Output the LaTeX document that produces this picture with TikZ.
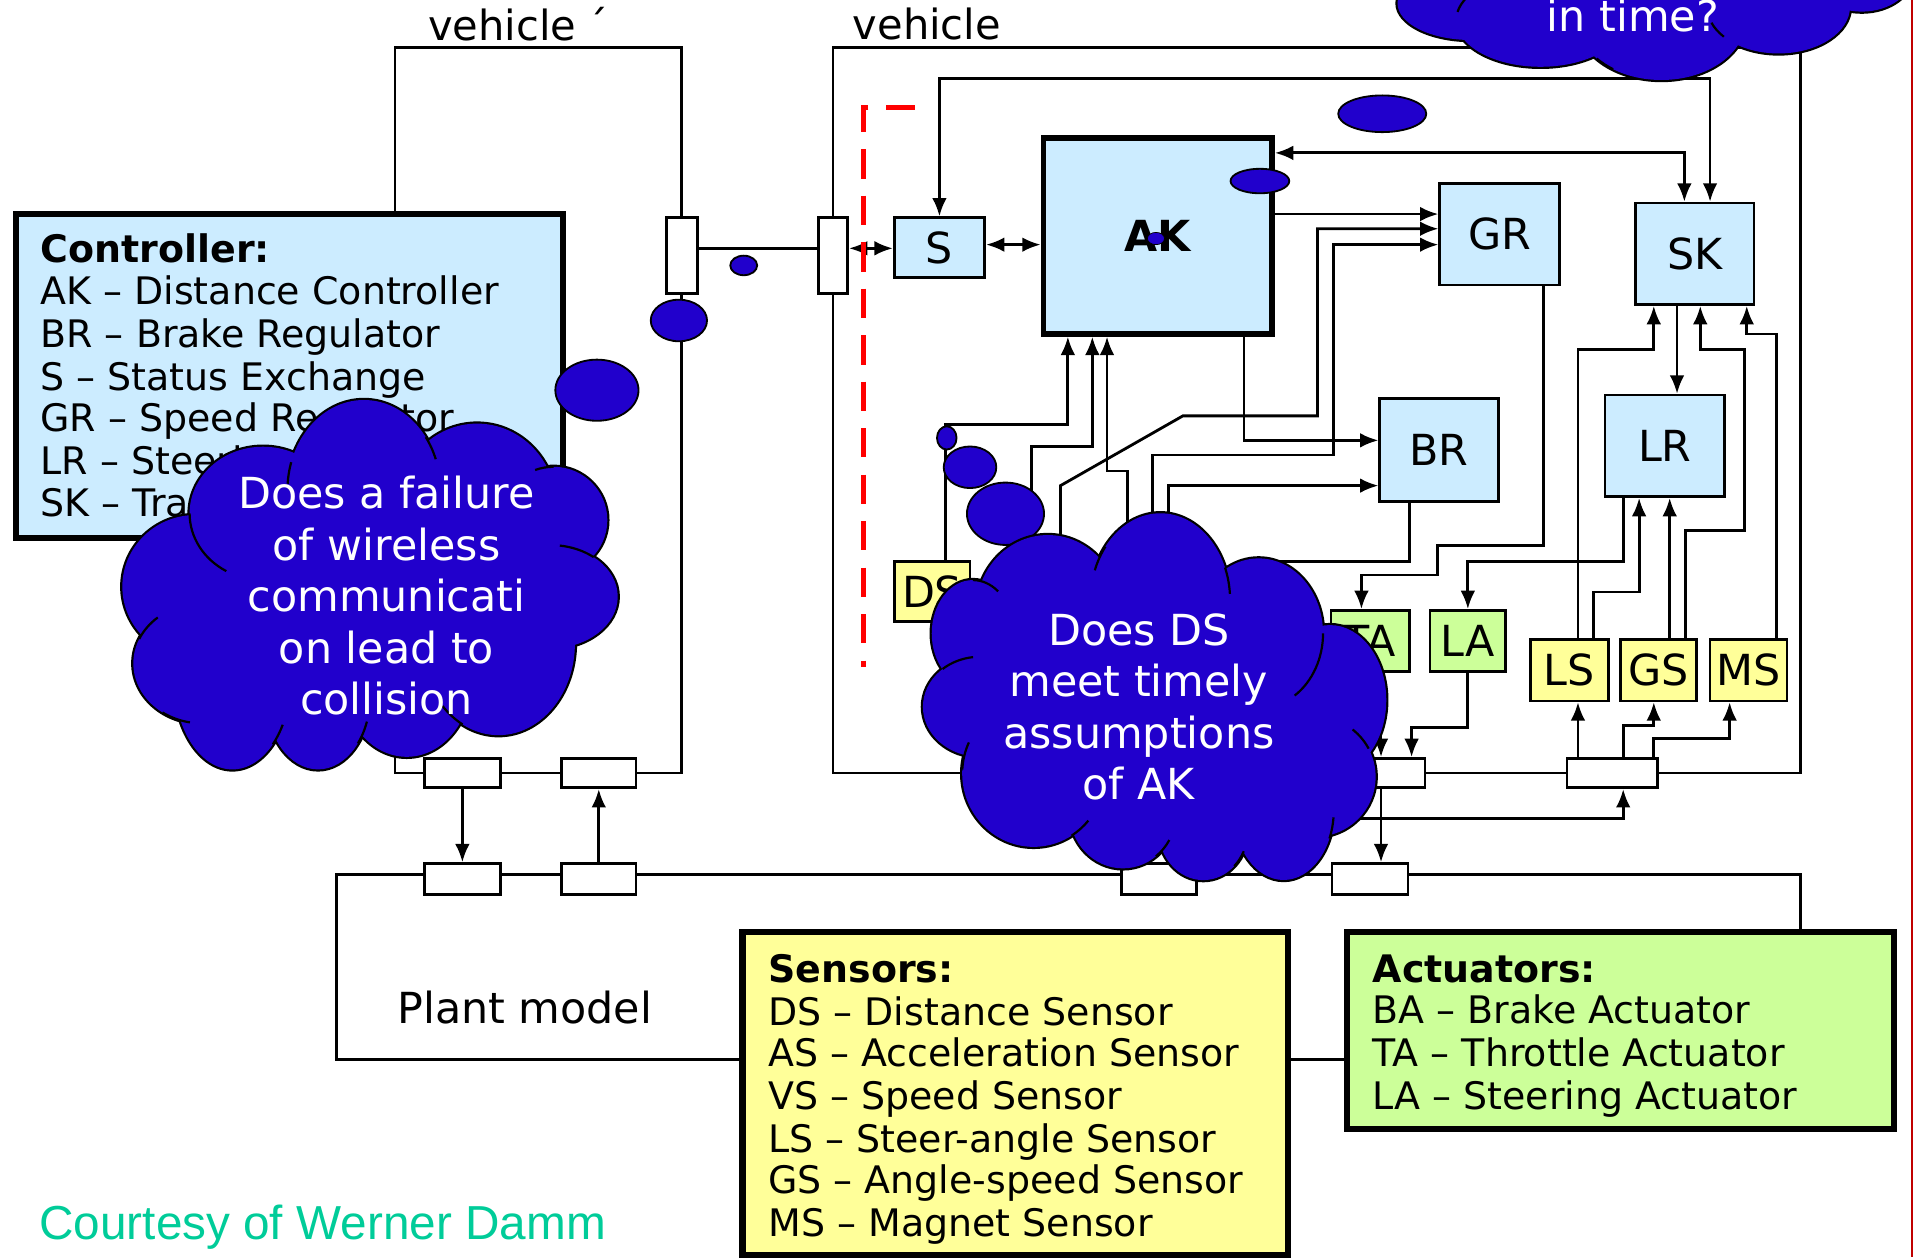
\documentclass[tikz,border=0pt]{standalone}
\usepackage{fontspec}
\setmainfont{DejaVu Sans}
\newfontfamily\arialf{Liberation Sans}
\usetikzlibrary{shapes.geometric,arrows.meta}
\definecolor{lblue}{RGB}{204,236,255}
\definecolor{yel}{RGB}{255,255,153}
\definecolor{grn}{RGB}{204,255,153}
\definecolor{cblue}{RGB}{33,0,204}
\definecolor{teal}{RGB}{0,204,153}
\definecolor{dred}{RGB}{192,0,0}
\tikzset{
  conn/.style={line width=2.3pt},
  frame/.style={line width=2.2pt},
  bx/.style={draw, line width=2.2pt, inner sep=0pt, font=\fontsize{35}{35}\selectfont},
  cbox/.style={bx, fill=lblue},
  sbox/.style={bx, fill=yel},
  abox/.style={bx, fill=grn},
  ibox/.style={draw, line width=2.2pt, fill=white, inner sep=0pt},
  legbox/.style={draw, line width=5pt, inner sep=0pt},
  leg/.style={anchor=base west, inner sep=0pt, font=\fontsize{31}{31}\selectfont},
  blob/.style={ellipse, draw, fill=cblue, line width=1.5pt, inner sep=0pt},
  cltxt/.style={align=center, text=white, inner sep=0pt, font=\fontsize{35}{42}\selectfont},
  lbl/.style={inner sep=0pt, font=\fontsize{35}{35}\selectfont},
  reddash/.style={draw=red, line width=4pt, dash pattern=on 24pt off 14pt},
  cline/.style={line width=3.6pt},
  iline/.style={line width=1.8pt},
}
\newcommand{\drawcloud}[2]{%
  \foreach \cx/\cy/\rx/\ry in {#1} {\draw[cline] (\cx,\cy) ellipse [x radius=\rx, y radius=\ry];}
  \foreach \cx/\cy/\rx/\ry in {#1} {\fill[cblue] (\cx,\cy) ellipse [x radius=\rx, y radius=\ry];}
  \fill[cblue] #2 -- cycle;
}
\newcommand{\iarcs}[1]{%
  \foreach \cx/\cy/\rx/\ry/\aa/\ab in {#1} {\draw[iline] (\cx,\cy) ++({\rx*cos(\aa)},{\ry*sin(\aa)}) arc[start angle=\aa, end angle=\ab, x radius=\rx, y radius=\ry];}
}
\begin{document}
\begin{tikzpicture}[x=1pt,y=-1pt,>={Latex[length=15pt,width=12pt]}]
\useasboundingbox (0,0) rectangle (1568,1028);
\fill[white] (0,0) rectangle (1568,1028);

% frames
\draw[frame] (323,39) rectangle (557,632);
\draw[frame] (681,39) rectangle (1472,632);
\draw[frame] (275,715) rectangle (1472,866);

% top labels
\node[lbl, anchor=west, font=\fontsize{34}{34}\selectfont] (tv1) at (350,20) {vehicle\hspace{9pt}´};
\node[lbl, anchor=west, font=\fontsize{34}{34}\selectfont] (tv2) at (697,20) {vehicle};
\node[lbl] (plant) at (429,824) {Plant model};

% interface boxes
\node[ibox, minimum width=25, minimum height=62] (vpr) at (557.5,209) {};
\node[ibox, minimum width=24, minimum height=62] (vl) at (681,209) {};
\node[ibox, minimum width=62, minimum height=24] (vpb1) at (378,632) {};
\node[ibox, minimum width=61, minimum height=24] (vpb2) at (489.5,632) {};
\node[ibox, minimum width=62, minimum height=24] (vb1) at (1134,632) {};
\node[ibox, minimum width=74, minimum height=24] (vb2) at (1318,632) {};
\node[ibox, minimum width=62, minimum height=25] (p1) at (378,718.5) {};
\node[ibox, minimum width=61, minimum height=25] (p2) at (489.5,718.5) {};
\node[ibox, minimum width=61, minimum height=25] (p3) at (947.5,718.5) {};
\node[ibox, minimum width=62, minimum height=25] (p4) at (1120,718.5) {};

% component boxes
\node[cbox, minimum width=74, minimum height=49] (S) at (768,202.5) {S};
\node[cbox, line width=4.5pt, minimum width=187, minimum height=160, font=\fontsize{35}{35}\selectfont\bfseries] (AK) at (946.5,193) {AK};
\node[cbox, minimum width=98, minimum height=83] (GR) at (1226,191.5) {GR};
\node[cbox, minimum width=97, minimum height=83] (SK) at (1385.5,207.5) {SK};
\node[cbox, minimum width=97, minimum height=84] (BR) at (1176.5,368) {BR};
\node[cbox, minimum width=98, minimum height=83] (LR) at (1361,364.5) {LR};
\node[sbox, minimum width=62, minimum height=49] (DS) at (762,483.5) {DS};
\node[abox, minimum width=64, minimum height=50] (TA) at (1120,524) {TA};
\node[abox, minimum width=62, minimum height=50] (LA) at (1200,524) {LA};
\node[sbox, minimum width=64, minimum height=50] (LS) at (1283,548) {LS};
\node[sbox, minimum width=62, minimum height=50] (GS) at (1356,548) {GS};
\node[sbox, minimum width=63, minimum height=50] (MS) at (1429.5,548) {MS};

% connectors
\draw[conn] (vpr.east |- 0,203) -- (vl.west |- 0,203);
\draw[conn,<->] (vl.east |- 0,203) -- (S.west |- 0,203);
\draw[conn,<->] (S.east |- 0,200) -- (AK.west |- 0,200);
\draw[conn,<->] (S.north) -- (768,64) -- (1398,64) -- (SK.north -| 1398,0);
\draw[conn,<->] (AK.east |- 0,125) -- (1377,125) -- (SK.north -| 1377,0);
\draw[conn,->] (AK.east |- 0,175) -- (GR.west |- 0,175);
\draw[conn,->] (867,480) -- (867,397) -- (967,340) -- (1077,340) -- (1077,187) -- (GR.west |- 0,187);
\draw[conn,->] (942,480) -- (942,372) -- (1090,372) -- (1090,200) -- (GR.west |- 0,200);
\draw[conn,->] (AK.south -| 1017,0) -- (1017,360) -- (BR.west |- 0,360);
\draw[conn,->] (955,480) -- (955,397) -- (BR.west |- 0,397);
\draw[conn,->] (DS.north -| 773,0) -- (773,347) -- (873,347) -- (AK.south -| 873,0);
\draw[conn,->] (843,480) -- (843,365) -- (893,365) -- (AK.south -| 893,0);
\draw[conn,->] (922,480) -- (922,385) -- (905,385) -- (AK.south -| 905,0);
\draw[conn,->] (GR.south -| 1262,0) -- (1262,446) -- (1175,446) -- (1175,470) -- (1113,470) -- (TA.north -| 1113,0);
\draw[conn] (BR.south -| 1152,0) -- (1152,459) -- (1040,459);
\draw[conn,->] (LR.south -| 1327,0) -- (1327,459) -- (1200,459) -- (LA.north);
\draw[conn,->] (LS.north -| 1290,0) -- (1290,286) -- (1352,286) -- (SK.south -| 1352,0);
\draw[conn,->] (LS.north -| 1303,0) -- (1303,484) -- (1340,484) -- (LR.south -| 1340,0);
\draw[conn,->] (GS.north -| 1365,0) -- (LR.south -| 1365,0);
\draw[conn,->] (GS.north -| 1378,0) -- (1378,434) -- (1426,434) -- (1426,286) -- (1390,286) -- (SK.south -| 1390,0);
\draw[conn,->] (MS.north -| 1452,0) -- (1452,273) -- (1428,273) -- (SK.south -| 1428,0);
\draw[conn,->] (SK.south -| 1371,0) -- (LR.north -| 1371,0);
\draw[conn,->] (vb2.north -| 1290,0) -- (LS.south -| 1290,0);
\draw[conn,->] (vb2.north -| 1327,0) -- (1327,593) -- (1352,593) -- (GS.south -| 1352,0);
\draw[conn,->] (vb2.north -| 1352,0) -- (1352,604) -- (1414,604) -- (MS.south -| 1414,0);
\draw[conn,->] (1050,669) -- (1327,669) -- (vb2.south -| 1327,0);
\draw[conn,->] (LA.south) -- (1200,595) -- (1154,595) -- (vb1.north -| 1154,0);
\draw[conn,->] (TA.south -| 1129,0) -- (vb1.north -| 1129,0);
\draw[conn,->] (vb1.south -| 1129,0) -- (p4.north -| 1129,0);
\draw[conn,->] (vpb1.south) -- (p1.north);
\draw[conn,->] (p2.north) -- (vpb2.south);

% red dashed boundary
\draw[reddash] (748,88) -- (706,88) -- (706,545);
\draw[dred, line width=1.5pt] (1563,0) -- (1563,1028);

% legend boxes
\node[legbox, fill=lblue, minimum width=447, minimum height=265] (ctrl) at (236.5,307.5) {};
\node[leg, font=\fontsize{31}{31}\selectfont\bfseries] (c0) at (33,215) {Controller:};
\node[leg] (c1) at (33,249) {AK – Distance Controller};
\node[leg] (c2) at (33,284) {BR – Brake Regulator};
\node[leg] (c3) at (33,319) {S – Status Exchange};
\node[leg] (c4) at (33,353) {GR – Speed Regulator};
\node[leg] (c5) at (33,388) {LR – Steering Regulator};
\node[leg] (c6) at (33,422) {SK – Traction Controller};

\node[legbox, fill=yel, minimum width=446, minimum height=264] (sens) at (830,894) {};
\node[leg, font=\fontsize{31}{31}\selectfont\bfseries] (s0) at (628,803) {Sensors:};
\node[leg] (s1) at (628,838) {DS – Distance Sensor};
\node[leg] (s2) at (628,872) {AS – Acceleration Sensor};
\node[leg] (s3) at (628,907) {VS – Speed Sensor};
\node[leg] (s4) at (628,942) {LS – Steer-angle Sensor};
\node[leg] (s5) at (628,976) {GS – Angle-speed Sensor};
\node[leg] (s6) at (628,1011) {MS – Magnet Sensor};

\node[legbox, fill=grn, minimum width=447, minimum height=161] (act) at (1324.5,842.5) {};
\node[leg, font=\fontsize{31}{31}\selectfont\bfseries] (a0) at (1122,803) {Actuators:};
\node[leg] (a1) at (1122,837) {BA – Brake Actuator};
\node[leg] (a2) at (1122,872) {TA – Throttle Actuator};
\node[leg] (a3) at (1122,907) {LA – Steering Actuator};

\node[anchor=base west, inner sep=0pt, text=teal, font=\arialf\fontsize{39}{39}\selectfont] (court) at (32,1013) {Courtesy of Werner Damm};

% thought bubbles
\node[blob, minimum width=22, minimum height=16] (e1) at (608,217) {};
\node[blob, minimum width=46, minimum height=34] (e2) at (555,262) {};
\node[blob, minimum width=68, minimum height=50] (e3) at (488,319) {};
\node[blob, minimum width=72, minimum height=30] (e4) at (1130,93) {};
\node[blob, minimum width=48, minimum height=20] (e5) at (1030,148) {};
\node[blob, minimum width=14, minimum height=10, line width=0.6pt] (e6) at (945,195) {};
\node[blob, minimum width=16, minimum height=19] (e7) at (774,358) {};
\node[blob, minimum width=43, minimum height=34] (e8) at (793,382) {};
\node[blob, minimum width=63, minimum height=51] (e9) at (822,420) {};

% left cloud
\drawcloud{215/419.7/60/54.5, 297.5/400.6/62.5/73.6, 390/414.3/65/68, 452.5/425.2/44/43.6, 450/487.8/55/42.2, 407.5/526/62.5/75, 332.5/556/52.5/62.7, 260/569.6/42.5/59.4, 190/556/47.5/73, 165/542.3/56/49, 160/479.6/60/58.6}{(215,419.7) -- (297.5,400.6) -- (390,414.3) -- (452.5,425.2) -- (450,487.8) -- (407.5,526) -- (332.5,556) -- (260,569.6) -- (190,556) -- (165,542.3) -- (160,479.6)}
\iarcs{215/419.7/60/54.5/180/120, 297.5/400.6/62.5/73.6/184/198, 297.5/400.6/62.5/73.6/-20/-36, 452.5/425.2/44/43.6/-90/-110, 450/487.8/55/42.2/-82/-50, 407.5/526/62.5/75/137/118, 260/569.6/42.5/59.4/20/40, 190/556/47.5/73/30/46, 165/542.3/56/49/125/100, 165/542.3/56/49/-130/-156}
\node[cltxt] (t1) at (316,487) {Does a failure\\of wireless\\communicati\\on lead to\\collision};

% middle cloud
\drawcloud{795.3/517.8/33.6/43.6, 856.6/498.7/58.4/61.3, 948.6/490.5/57/70.9, 1029/517.8/52.6/61.3, 1087.3/572.3/46/61.3, 1075.6/635/49/49, 1049.4/662.2/41/57.2, 983.7/678.6/36.5/40.9, 918/663.6/43.8/46.3, 845/632.3/58.4/60, 801.2/577.8/46.7/40.9}{(795.3,517.8) -- (856.6,498.7) -- (948.6,490.5) -- (1029,517.8) -- (1087.3,572.3) -- (1075.6,635) -- (1049.4,662.2) -- (983.7,678.6) -- (918,663.6) -- (845,632.3) -- (801.2,577.8)}
\iarcs{1029/517.8/52.6/61.3/0/56, 801.2/577.8/46.7/40.9/-97/-131, 795.3/517.8/33.6/43.6/-90/-52, 845/632.3/58.4/60/205/183, 1075.6/635/49/49/-52/-28, 983.7/678.6/36.5/40.9/25/46, 918/663.6/43.8/46.3/30/52, 845/632.3/58.4/60/58/40, 948.6/490.5/57/70.9/-160/-142, 948.6/490.5/57/70.9/-4/-22, 1049.4/662.2/41/57.2/6/24}
\node[cltxt] (t2) at (931,578) {Does DS\\meet timely\\assumptions\\of AK};

% top cloud
\drawcloud{1202.5/2.7/60/30, 1259.4/16.4/68.9/38.2, 1358.2/16.4/68.9/49, 1454/5.5/58.4/38.2, 1522/-21.8/42/31.3}{(1202.5,2.7) -- (1259.4,16.4) -- (1358.2,16.4) -- (1454,5.5) -- (1522,-21.8) -- (1522,-150) -- (1202.5,-150)}
\iarcs{1259.4/16.4/68.9/38.2/-150/-170, 1358.2/16.4/68.9/49/140/125, 1454/5.5/58.4/38.2/160/140}
\node[cltxt, anchor=base] (t3) at (1335,26) {in time?};
\end{tikzpicture}
\end{document}
